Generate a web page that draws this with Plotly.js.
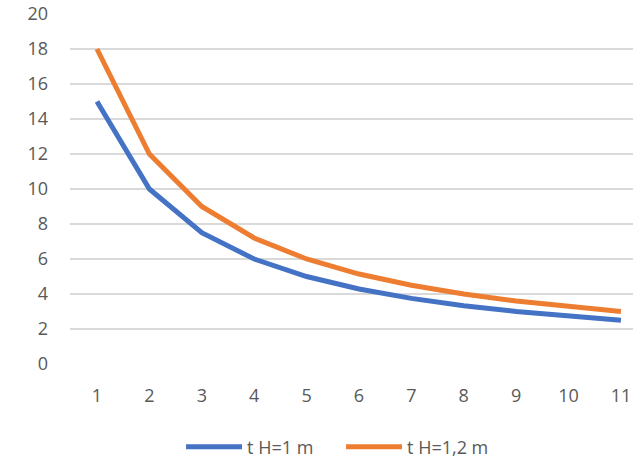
<!DOCTYPE html>
<html><head><meta charset="utf-8">
<script src="https://cdn.plot.ly/plotly-3.0.1.min.js"></script>
<style>html,body{margin:0;padding:0;background:#fff;}</style>
</head><body><div id="chart" style="width:633px;height:460px;"></div>
<script>
const xCats = [1,2,3,4,5,6,7,8,9,10,11];
const seriesA = [15,10,7.5,6,5,4.29,3.75,3.33,3,2.73,2.5];
const seriesB = [18,12,9,7.2,6,5.14,4.5,4,3.6,3.27,3];
const nameA = 't H=1 m';
const nameB = 't H=1,2 m';
const fnt = {family:'Open Sans, Liberation Sans, sans-serif', size:18, color:'#595959'};
Plotly.newPlot('chart', [
 {x:xCats, y:seriesA, name:nameA, type:'scatter', mode:'lines', line:{color:'#4472C4', width:5}},
 {x:xCats, y:seriesB, name:nameB, type:'scatter', mode:'lines', line:{color:'#ED7D31', width:5}}
], {
 width:633, height:460,
 margin:{l:70, r:0, t:14, b:96, autoexpand:false},
 paper_bgcolor:'#fff', plot_bgcolor:'#fff',
 font:fnt,
 xaxis:{range:[0.485,11.23], tickvals:xCats, showgrid:false, zeroline:false, showline:false, ticks:'', ticklabelstandoff:19, tickfont:fnt, fixedrange:true},
 yaxis:{range:[0,20], dtick:2, tick0:0, showgrid:true, gridcolor:'#D9D9D9', gridwidth:1.3, zeroline:false, showline:false, ticks:'', ticklabelstandoff:21, tickfont:fnt},
 showlegend:true,
 legend:{orientation:'h', x:0.286, xanchor:'left', xref:'container', y:0.028, yanchor:'middle', yref:'container', font:fnt, traceorder:'normal', itemwidth:56, entrywidth:89, entrywidthmode:'pixels'}
}, {displayModeBar:false, staticPlot:true});
</script></body></html>
